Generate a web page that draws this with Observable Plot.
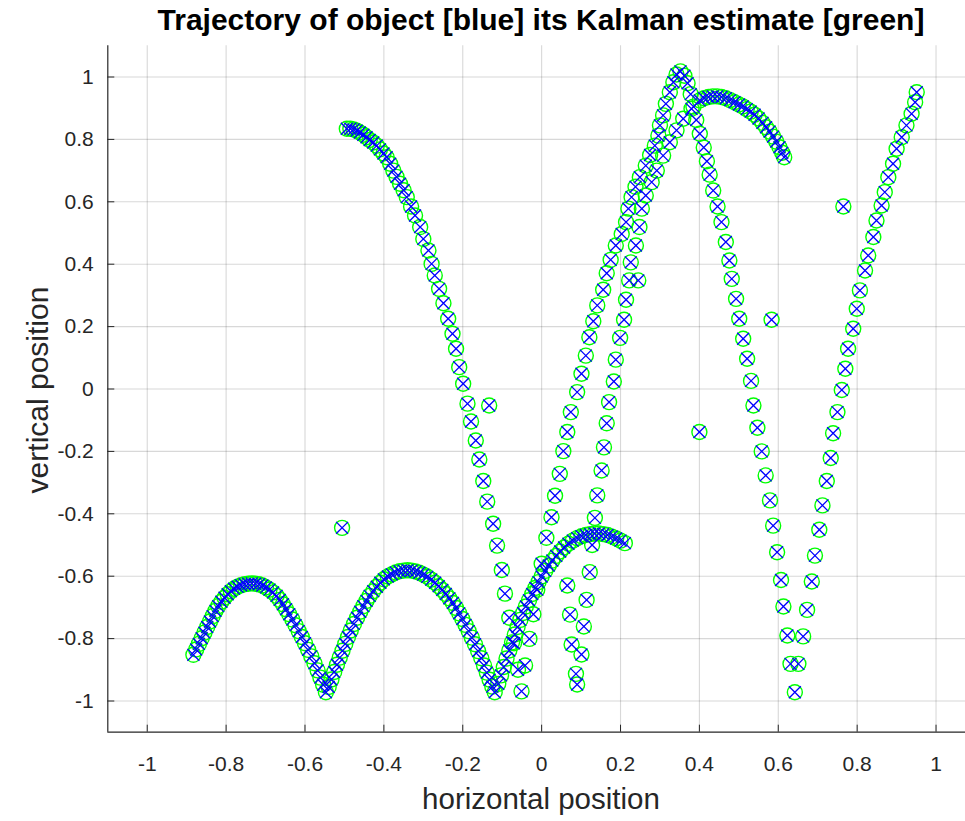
<!DOCTYPE html>
<html><head><meta charset="utf-8">
<script src="https://cdn.jsdelivr.net/npm/d3@7"></script>
<script src="https://cdn.jsdelivr.net/npm/@observablehq/plot@0.6"></script>
<style>
html,body{margin:0;padding:0;background:#fff;overflow:hidden;}
#wrap{position:relative;width:965px;height:821px;}
#chart{position:absolute;left:0;top:0;}
.lbl{position:absolute;font-family:"Liberation Sans",Arial,Helvetica,sans-serif;color:#262626;white-space:nowrap;}
#title{left:107px;width:868px;top:3px;text-align:center;font-weight:bold;font-size:30px;color:#000;}
#xlabel{left:107px;width:868px;top:782px;text-align:center;font-size:29.5px;}
#ylabel{left:38px;top:390px;font-size:30px;transform:translate(-50%,-50%) rotate(-90deg);}
</style></head><body>
<div id="wrap"><div id="chart"></div>
<div class="lbl" id="title">Trajectory of object [blue] its Kalman estimate [green]</div>
<div class="lbl" id="xlabel">horizontal position</div>
<div class="lbl" id="ylabel">vertical position</div>
</div>
<script>
// Axis settings
const xDomain = [-1.1, 1.0747];
const yDomain = [-1.1, 1.1];
const xTicks = [-1, -0.8, -0.6, -0.4, -0.2, 0, 0.2, 0.4, 0.6, 0.8, 1];
const xTickLabels = ["-1", "-0.8", "-0.6", "-0.4", "-0.2", "0", "0.2", "0.4", "0.6", "0.8", "1"];
const yTicks = [-1, -0.8, -0.6, -0.4, -0.2, 0, 0.2, 0.4, 0.6, 0.8, 1];
const yTickLabels = ["-1", "-0.8", "-0.6", "-0.4", "-0.2", "0", "0.2", "0.4", "0.6", "0.8", "1"];

// Trajectory segments [x, y]
const arcA = [[-0.883,-0.852],[-0.876,-0.835],[-0.869,-0.817],[-0.862,-0.799],[-0.855,-0.781],[-0.848,-0.763],[-0.841,-0.745],[-0.834,-0.728],[-0.827,-0.711],[-0.820,-0.696],[-0.812,-0.682],[-0.804,-0.669],[-0.796,-0.658],[-0.788,-0.648],[-0.780,-0.640],[-0.771,-0.634],[-0.762,-0.629],[-0.753,-0.626],[-0.744,-0.624],[-0.735,-0.623],[-0.726,-0.624],[-0.717,-0.626],[-0.708,-0.630],[-0.699,-0.636],[-0.690,-0.643],[-0.681,-0.652],[-0.672,-0.663],[-0.664,-0.676],[-0.656,-0.690],[-0.648,-0.706],[-0.640,-0.722],[-0.632,-0.739],[-0.624,-0.757],[-0.616,-0.776],[-0.608,-0.795],[-0.600,-0.815],[-0.592,-0.836],[-0.584,-0.857],[-0.576,-0.879],[-0.568,-0.902],[-0.561,-0.925],[-0.554,-0.948],[-0.547,-0.972]];

const arcB = [[-0.540,-0.955],[-0.533,-0.931],[-0.526,-0.907],[-0.519,-0.884],[-0.512,-0.861],[-0.505,-0.839],[-0.498,-0.817],[-0.491,-0.795],[-0.484,-0.774],[-0.476,-0.753],[-0.468,-0.733],[-0.460,-0.714],[-0.452,-0.696],[-0.444,-0.679],[-0.436,-0.663],[-0.427,-0.648],[-0.418,-0.634],[-0.409,-0.621],[-0.400,-0.610],[-0.390,-0.601],[-0.380,-0.594],[-0.370,-0.588],[-0.360,-0.584],[-0.350,-0.582],[-0.340,-0.581],[-0.330,-0.582],[-0.320,-0.585],[-0.310,-0.589],[-0.300,-0.595],[-0.290,-0.602],[-0.280,-0.611],[-0.270,-0.621],[-0.261,-0.632],[-0.252,-0.644],[-0.243,-0.657],[-0.234,-0.671],[-0.225,-0.686],[-0.217,-0.702],[-0.209,-0.719],[-0.201,-0.737],[-0.193,-0.756],[-0.185,-0.776],[-0.177,-0.797],[-0.169,-0.818],[-0.161,-0.840],[-0.153,-0.863],[-0.146,-0.886],[-0.139,-0.909],[-0.132,-0.932],[-0.125,-0.954],[-0.119,-0.972]];

const arcC = [[-0.110,-0.945],[-0.103,-0.918],[-0.096,-0.891],[-0.089,-0.864],[-0.082,-0.838],[-0.075,-0.812],[-0.068,-0.787],[-0.061,-0.763],[-0.054,-0.740],[-0.047,-0.718],[-0.040,-0.697],[-0.032,-0.677],[-0.024,-0.657],[-0.016,-0.638],[-0.008,-0.619],[0.000,-0.601],[0.009,-0.583],[0.018,-0.566],[0.027,-0.550],[0.037,-0.535],[0.047,-0.521],[0.057,-0.508],[0.068,-0.496],[0.079,-0.486],[0.090,-0.478],[0.101,-0.472],[0.112,-0.468],[0.123,-0.465],[0.134,-0.463],[0.145,-0.463],[0.156,-0.465],[0.167,-0.468],[0.178,-0.473],[0.189,-0.479],[0.200,-0.486],[0.211,-0.494]];

const arcD = [[-0.494,0.834],[-0.485,0.834],[-0.477,0.832],[-0.469,0.828],[-0.461,0.822],[-0.452,0.815],[-0.444,0.807],[-0.436,0.798],[-0.427,0.790],[-0.418,0.780],[-0.410,0.768],[-0.401,0.755],[-0.393,0.743],[-0.384,0.722],[-0.376,0.700],[-0.368,0.680],[-0.359,0.658],[-0.350,0.637],[-0.342,0.615],[-0.331,0.585],[-0.321,0.556],[-0.308,0.519],[-0.300,0.481],[-0.287,0.444],[-0.279,0.401],[-0.271,0.364],[-0.260,0.321],[-0.249,0.275],[-0.237,0.225],[-0.226,0.177],[-0.217,0.129],[-0.209,0.070],[-0.199,0.017],[-0.188,-0.047],[-0.179,-0.104],[-0.167,-0.165],[-0.158,-0.226],[-0.148,-0.295],[-0.138,-0.361],[-0.123,-0.432],[-0.113,-0.502],[-0.101,-0.580],[-0.093,-0.656],[-0.082,-0.733],[-0.070,-0.815],[-0.060,-0.900],[-0.051,-0.969]];

const riseOuter = [[-0.042,-0.886],[-0.031,-0.801],[-0.021,-0.722],[-0.011,-0.643],[0.000,-0.560],[0.012,-0.477],[0.025,-0.411],[0.034,-0.342],[0.046,-0.272],[0.055,-0.199],[0.065,-0.138],[0.074,-0.074],[0.090,-0.010],[0.101,0.049],[0.112,0.107],[0.121,0.166],[0.131,0.217],[0.141,0.268],[0.156,0.318],[0.165,0.371],[0.175,0.414],[0.188,0.460],[0.203,0.497],[0.214,0.535],[0.220,0.578],[0.228,0.615],[0.238,0.648],[0.249,0.679],[0.264,0.716],[0.275,0.750],[0.287,0.780],[0.296,0.812],[0.300,0.845],[0.308,0.877],[0.315,0.914],[0.325,0.951],[0.334,0.983],[0.342,1.008],[0.352,1.018]];

const fallRight = [[0.362,1.004],[0.370,0.980],[0.378,0.945],[0.385,0.905],[0.392,0.862],[0.401,0.818],[0.411,0.774],[0.419,0.730],[0.426,0.687],[0.435,0.636],[0.446,0.585],[0.456,0.535],[0.467,0.471],[0.476,0.412],[0.482,0.353],[0.493,0.289],[0.501,0.225],[0.511,0.161],[0.521,0.097],[0.531,0.026],[0.537,-0.053],[0.547,-0.124],[0.558,-0.200],[0.568,-0.277],[0.579,-0.357],[0.587,-0.438],[0.597,-0.523],[0.607,-0.612],[0.613,-0.697],[0.623,-0.790],[0.631,-0.881],[0.642,-0.972]];

const riseRight = [[0.651,-0.881],[0.663,-0.793],[0.673,-0.708],[0.685,-0.617],[0.693,-0.534],[0.704,-0.451],[0.712,-0.373],[0.723,-0.295],[0.733,-0.221],[0.739,-0.142],[0.750,-0.074],[0.761,-0.003],[0.770,0.065],[0.777,0.129],[0.790,0.193],[0.799,0.257],[0.807,0.316],[0.820,0.380],[0.828,0.428],[0.841,0.487],[0.849,0.540],[0.862,0.588],[0.870,0.631],[0.879,0.679],[0.891,0.722],[0.900,0.770],[0.913,0.807],[0.925,0.845],[0.938,0.882],[0.947,0.919],[0.951,0.951]];

const riseInner = [[0.065,-0.630],[0.072,-0.723],[0.076,-0.819],[0.087,-0.913],[0.090,-0.947],[0.101,-0.851],[0.107,-0.761],[0.114,-0.676],[0.122,-0.587],[0.128,-0.500],[0.135,-0.413],[0.141,-0.341],[0.152,-0.261],[0.158,-0.187],[0.165,-0.110],[0.171,-0.042],[0.183,0.024],[0.188,0.094],[0.199,0.164],[0.209,0.222],[0.214,0.286],[0.222,0.348],[0.226,0.406],[0.239,0.460],[0.248,0.519],[0.254,0.578],[0.264,0.620],[0.279,0.663],[0.292,0.700],[0.308,0.748],[0.325,0.791],[0.342,0.829],[0.359,0.866],[0.380,0.898],[0.401,0.925]];

const arcTop = [[0.412,0.932],[0.423,0.936],[0.434,0.938],[0.445,0.938],[0.456,0.936],[0.467,0.932],[0.478,0.926],[0.489,0.919],[0.500,0.912],[0.510,0.906],[0.520,0.897],[0.530,0.889],[0.540,0.879],[0.550,0.867],[0.560,0.853],[0.569,0.839],[0.578,0.825],[0.587,0.809],[0.595,0.793],[0.603,0.775],[0.610,0.757],[0.615,0.743]];

const outliers = [[-0.506,-0.445],[-0.133,-0.053],[0.400,-0.138],[0.583,0.222],[0.765,0.585],[0.245,0.348]];

const points = [...arcA, ...arcB, ...arcC, ...arcD, ...riseOuter, ...fallRight, ...riseRight, ...riseInner, ...arcTop, ...outliers];

const axisColor = "#262626";
const font = '"Liberation Sans", Arial, Helvetica, sans-serif';

const chart = Plot.plot({
  width: 965,
  height: 821,
  marginLeft: 107.3,
  marginRight: 0,
  marginTop: 45.3,
  marginBottom: 89.3,
  style: {fontFamily: font, background: "#fff", overflow: "hidden"},
  x: {domain: xDomain},
  y: {domain: yDomain},
  marks: [
    Plot.gridX(xTicks, {stroke: axisColor, strokeOpacity: 0.18, strokeWidth: 1.1}),
    Plot.gridY(yTicks, {stroke: axisColor, strokeOpacity: 0.18, strokeWidth: 1.1}),
    Plot.ruleY([yDomain[0]], {stroke: axisColor, strokeWidth: 1.2}),
    Plot.ruleX([xDomain[0]], {stroke: axisColor, strokeWidth: 1.2}),
    Plot.axisX(xTicks, {anchor: "bottom", tickSize: -7, tickPadding: 31, fontSize: 21, fill: axisColor, stroke: axisColor, tickFormat: (d, i) => xTickLabels[i], label: null}),
    Plot.axisY(yTicks, {anchor: "left", tickSize: -7, tickPadding: 21, fontSize: 21, fill: axisColor, stroke: axisColor, tickFormat: (d, i) => yTickLabels[i], label: null}),
    Plot.dot(points, {x: d => d[0], y: d => d[1], r: 7.5, symbol: "circle", stroke: "#00ff00", strokeWidth: 1.4, fill: "none"}),
    Plot.dot(points, {x: d => d[0], y: d => d[1], r: 5.5, symbol: "times", stroke: "#0000ff", strokeWidth: 1.3})
  ]
});
chart.style.maxWidth = "none";
document.getElementById("chart").appendChild(chart);
</script>
</body></html>
